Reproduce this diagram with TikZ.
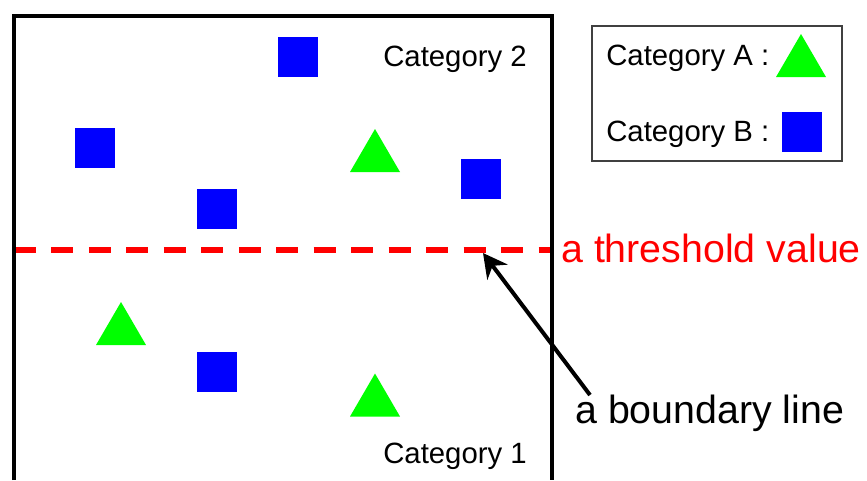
\documentclass[tikz,border=0pt]{standalone}
\usepackage{fontspec}
\setmainfont{Liberation Sans}
\usetikzlibrary{arrows.meta}
\definecolor{trigreen}{RGB}{0,255,0}
\definecolor{sqblue}{RGB}{0,0,255}
\definecolor{thrred}{RGB}{255,0,0}
\begin{document}
\begin{tikzpicture}[x=0.75pt,y=-0.75pt,
  sq/.style={fill=sqblue, draw=none, minimum size=30pt, inner sep=0pt},
  lbl/.style={font=\fontsize{22}{26}\selectfont, inner sep=0pt, anchor=base west},
  big/.style={font=\fontsize{29.5}{34}\selectfont, inner sep=0pt, anchor=base west},
  tri/.pic={\fill[trigreen] (-25,21.5) -- (25,21.5) -- (0,-21.5) -- cycle;},
  frame/.style={line width=3.4pt},
  thrline/.style={thrred, line width=4pt, dash pattern=on 16.5pt off 11.6pt},
  legendbox/.style={draw=black!75, line width=1.1pt, minimum width=187.5pt, minimum height=101.25pt, inner sep=0pt},
  pointer/.style={line width=3pt, -{Stealth[length=18pt,width=19pt,inset=6pt]}}
]
\useasboundingbox (0,0) rectangle (867,480);
% threshold line
\draw[thrline] (14,250) -- (552,250);
% frame
\draw[frame] (14,480) -- (14,16) -- (552,16) -- (552,480);
% squares
\node[sq] (b1) at (298,57) {};
\node[sq] (b2) at (95,148) {};
\node[sq] (b3) at (217,209) {};
\node[sq] (b4) at (481,179) {};
\node[sq] (b5) at (217,372) {};
% triangles
\pic at (375,150.5) {tri};
\pic at (121,323.5) {tri};
\pic at (375,395) {tri};
% labels
\node[lbl] (c2) at (383,66) {Category 2};
\node[lbl] (c1) at (383,463) {Category 1};
\node[big, text=thrred] (thr) at (561,262) {a threshold value};
\node[big] (bnd) at (575,423) {a boundary line};
% legend
\node[legendbox] (legend) at (717,93.5) {};
\node[lbl] (la) at (606,65) {Category A :};
\node[lbl] (lb) at (606,141) {Category B :};
\pic at (801,55.5) {tri};
\node[sq] (lsq) at (802,131.5) {};
% arrow
\coordinate (tail) at (590,395);
\coordinate (tip) at (483,253);
\draw[pointer] (tail) -- (tip);
\end{tikzpicture}
\end{document}
